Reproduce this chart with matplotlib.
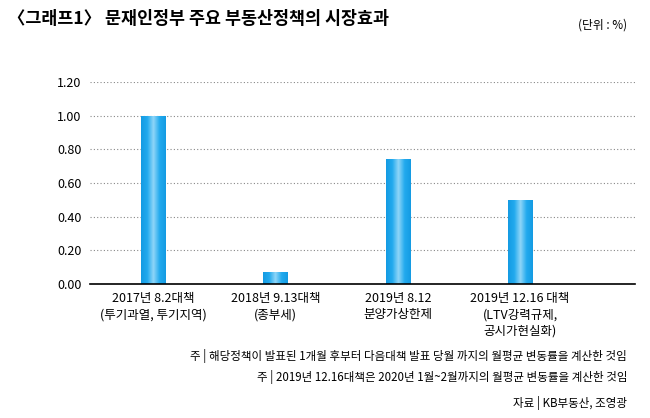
import matplotlib
matplotlib.use("Agg")
import matplotlib.pyplot as plt
import numpy as np
from matplotlib.colors import LinearSegmentedColormap

plt.rcParams['font.family'] = ['Noto Sans CJK KR', 'DejaVu Sans']

categories = ["2017년 8.2대책\n(투기과열, 투기지역)", "2018년 9.13대책\n(종부세)",
              "2019년 8.12\n분양가상한제", "2019년 12.16 대책\n(LTV강력규제,\n공시가현실화)"]
values = [1.00, 0.07, 0.74, 0.50]
yticks = [0.0, 0.2, 0.4, 0.6, 0.8, 1.0, 1.2]
ytick_labels = ["0.00", "0.20", "0.40", "0.60", "0.80", "1.00", "1.20"]

fig = plt.figure(figsize=(6.5, 4.18), dpi=100)
ax = fig.add_axes([0.138, 0.321, 0.839, 0.483])
x = np.arange(len(values))
w = 0.2
bars = ax.bar(x, values, width=w, color="#1aa3e8", zorder=3)
cmap = LinearSegmentedColormap.from_list("b", ["#149be3", "#22aaee", "#8fd6f8", "#22aaee", "#149be3"])
grad = np.linspace(0, 1, 100).reshape(1, -1)
for b in bars:
    im = ax.imshow(grad, cmap=cmap, aspect='auto', zorder=4,
                   extent=[b.get_x(), b.get_x() + b.get_width(), 0, b.get_height()])
    im.set_clip_path(b)
ax.set_xlim(-0.52, 3.94)
ax.set_ylim(0, 1.2)
ax.set_yticks(yticks)
ax.set_yticklabels(ytick_labels, fontsize=9)
ax.set_xticks(x)
ax.set_xticklabels(categories, fontsize=9, linespacing=1.3)
ax.tick_params(length=0, pad=6)
ax.yaxis.grid(True, linestyle=(0, (1, 2)), color="#888888", linewidth=0.8, zorder=0)
for s in ["top", "right", "left"]:
    ax.spines[s].set_visible(False)
ax.spines["bottom"].set_color("black")
ax.spines["bottom"].set_linewidth(1.2)
ax.spines["bottom"].set_zorder(5)

fig.text(0.012, 0.955, "〈그래프1〉 문재인정부 주요 부동산정책의 시장효과", fontsize=12.5, fontweight='bold', va='center')
fig.text(0.965, 0.94, "(단위 : %)", fontsize=8.5, ha='right', va='center')
fig.text(0.965, 0.148, "주 | 해당정책이 발표된 1개월 후부터 다음대책 발표 당월 까지의 월평균 변동률을 계산한 것임",
         fontsize=8.3, ha='right', va='center')
fig.text(0.965, 0.098, "주 | 2019년 12.16대책은 2020년 1월~2월까지의 월평균 변동률을 계산한 것임",
         fontsize=8.3, ha='right', va='center')
fig.text(0.965, 0.036, "자료 | KB부동산, 조영광", fontsize=8.3, ha='right', va='center')
fig.savefig("out.png", dpi=100)
